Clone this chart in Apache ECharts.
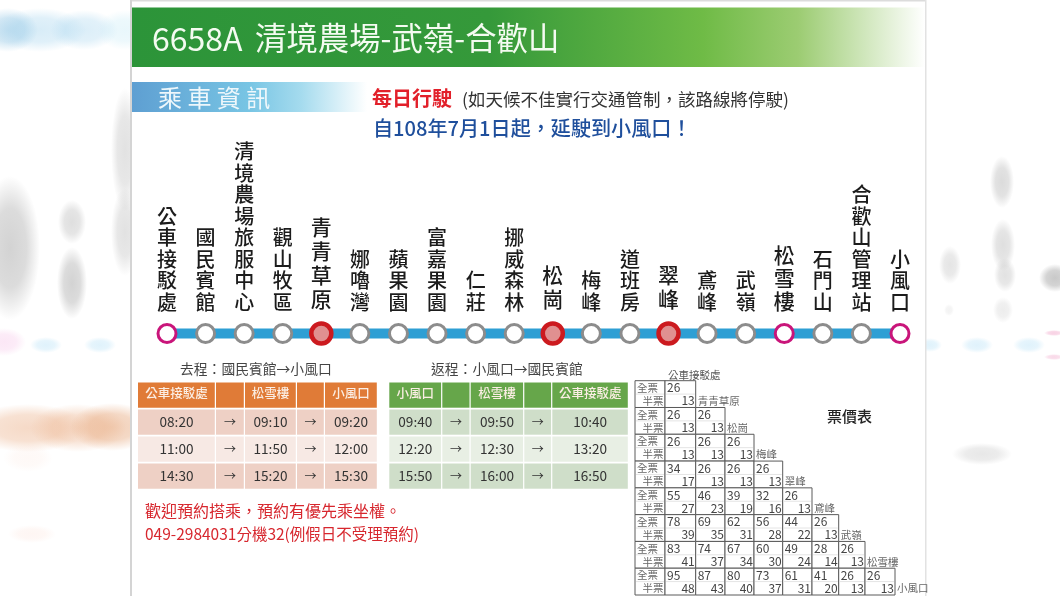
<!DOCTYPE html>
<html><head><meta charset="utf-8">
<style>html,body{margin:0;padding:0;background:#fff}#c{width:1060px;height:596px}</style>
<script src="https://cdn.jsdelivr.net/npm/echarts@6/dist/echarts.min.js"></script>
</head><body><div id="c"></div>
<script>
// ---------- data ----------
const stations = ['公車接駁處','國民賓館','清境農場旅服中心','觀山牧區','青青草原','娜嚕灣','蘋果園','富嘉果園','仁莊','挪威森林','松崗','梅峰','道班房','翠峰','鳶峰','武嶺','松雪樓','石門山','合歡山管理站','小風口'];
const majorStops = ['青青草原','松崗','翠峰'];
const terminalStops = ['公車接駁處','松雪樓','小風口'];
const outboundHeader = ['公車接駁處','','松雪樓','','小風口'];
const outboundFirst = ['08:20','11:00','14:30'];
const outboundMiddle = ['09:10','11:50','15:20'];
const outboundLast = ['09:20','12:00','15:30'];
const returnHeader = ['小風口','','松雪樓','','公車接駁處'];
const returnFirst = ['09:40','12:20','15:50'];
const returnMiddle = ['09:50','12:30','16:00'];
const returnLast = ['10:40','13:20','16:50'];
const fareStops = ['青青草原','松崗','梅峰','翠峰','鳶峰','武嶺','松雪樓','小風口'];
const fareFull = [[26],[26,26],[26,26,26],[34,26,26,26],[55,46,39,32,26],[78,69,62,56,44,26],[83,74,67,60,49,28,26],[95,87,80,73,61,41,26,26]];
const fareHalf = [[13],[13,13],[13,13,13],[17,13,13,13],[27,23,19,16,13],[39,35,31,28,22,13],[41,37,34,30,24,14,13],[48,43,40,37,31,20,13,13]];

// ---------- layout and style ----------
const FONT = '"Noto Sans CJK TC","Noto Sans CJK SC",sans-serif';
const outEdges = [0,78,107,159,187,240];
const retEdges = [0,53,81.4,135,163,239.7];
const fareEdges = [0,30,60.7,90,119,147.7,177,203.7,230,260];
const blobFade = 0.62;
const blobs = [
 [10,248,30,72,'140,140,140',.62],[72,222,14,22,'150,150,150',.5],[72,283,15,36,'140,140,140',.62],
 [125,150,14,62,'150,150,150',.45],[125,232,14,44,'150,150,150',.45],
 [40,30,46,22,'150,205,235',.6],[84,30,34,20,'150,205,235',.55],[8,30,30,22,'130,190,225',.7],[125,30,28,20,'190,232,245',.55],
 [4,342,22,14,'245,190,230',.6],[46,345,16,8,'170,220,245',.6],[100,345,16,8,'170,220,245',.6],
 [28,428,60,24,'235,175,135',.75],[78,428,48,24,'235,175,135',.7],[112,427,42,24,'230,165,120',.85],[28,458,25,14,'250,215,200',.25],
 [32,534,24,9,'250,205,190',.3],
 [1002,182,12,26,'150,150,150',.55],[1003,245,12,26,'150,150,150',.5],[1005,275,11,17,'150,150,150',.45],[1003,310,10,13,'170,170,170',.35],
 [950,265,11,19,'160,160,160',.45],[949,310,5,6,'190,190,190',.3],[982,454,30,11,'170,170,170',.45],
 [930,345,12,7,'170,220,245',.6],[977,345,16,8,'170,220,245',.6],[1029,345,16,8,'170,220,245',.6],
 [1055,278,16,14,'120,120,120',.65],[1054,333,10,3,'235,130,180',.6],[1054,357,10,3,'235,130,180',.5]
];
const t = (text,x,y,size,fill,weight,align) => ({type:'text',style:{text,x,y,fill,font:`${weight||400} ${size}px ${FONT}`,textAlign:align||'left',textVerticalAlign:'middle'}});
const bgGraphics = [
 ...blobs.map(([x,y,rx,ry,c,a0])=>{const a=a0*blobFade;return {type:'circle',x,y,scaleY:ry/rx,shape:{cx:0,cy:0,r:rx},silent:true,
   style:{fill:{type:'radial',x:.5,y:.5,r:.5,colorStops:[{offset:0,color:`rgba(${c},${a})`},{offset:.55,color:`rgba(${c},${a*.8})`},{offset:1,color:`rgba(${c},0)`}]}}};}),
 {type:'rect',shape:{x:132,y:0,width:793,height:596},style:{fill:'#fff'}},
 {type:'rect',shape:{x:130,y:0,width:2,height:596},style:{fill:'#d4d4d4'}},
 {type:'rect',shape:{x:925,y:0,width:1.5,height:596},style:{fill:'#e2e2e2'}},
 {type:'rect',shape:{x:132,y:0,width:793,height:1.5},style:{fill:'#dcdcdc'}},
 {type:'rect',shape:{x:132,y:7.5,width:793,height:59.5},style:{fill:{type:'linear',x:0,y:0,x2:1,y2:0,colorStops:[{offset:0,color:'#2c9439'},{offset:.45,color:'#35993a'},{offset:.72,color:'#6fbb46'},{offset:.84,color:'#9ccc72'},{offset:1,color:'#ffffff'}]}}},
 {type:'rect',shape:{x:132,y:82,width:235,height:30},style:{fill:{type:'linear',x:0,y:0,x2:1,y2:0,colorStops:[{offset:0,color:'#5e9fd2'},{offset:.5,color:'#78c5e4'},{offset:.72,color:'#a5dbee'},{offset:1,color:'#ffffff'}]}}},
 t('6658A',152,38.5,32,'#f4fbf1',400),
 t('清境農場-武嶺-合歡山',255,38.5,31.4,'#f4fbf1',400),
 t('乘 車 資 訊',158,97.5,24,'#eef7fb',400),
 t('每日行駛',372,98,20,'#e2202a',700),
 t('(如天候不佳實行交通管制，該路線將停駛)',462,99,17.5,'#333',400),
 t('自108年7月1日起，延駛到小風口！',373,128,20.1,'#1f4f9c',500),
 t('去程：國民賓館→小風口',180,369,13.8,'#444',400),
 t('返程：小風口→國民賓館',431,369,13.8,'#444',400),
 t('歡迎預約搭乘，預約有優先乘坐權。',145,511,16,'#d7272e',400),
 t('049-2984031分機32(例假日不受理預約)',145,534,15.5,'#d7272e',400),
 t('公車接駁處',668,375,10.5,'#555',400),
 t('票價表',827,416,15,'#222',500)
];

// ---------- schedule tables ----------
function timetableCells(header, first, middle, last){
  const cells=[];
  header.forEach((h,c)=>cells.push({col:c,row:0,text:h,head:true}));
  first.forEach((v,i)=>{
    [v,'→',middle[i],'→',last[i]].forEach((s,c)=>cells.push({col:c,row:i+1,text:s}));
  });
  return cells;
}
function timetableSeries(idx, cells, edges, headFill, bodyFills){
  return {type:'custom',coordinateSystem:'cartesian2d',xAxisIndex:idx,yAxisIndex:idx,silent:true,
    data:cells.map(c=>[c.col,c.row]),
    renderItem(params,api){
      const cell=cells[params.dataIndex];
      const p0=api.coord([edges[cell.col],cell.row]);
      const p1=api.coord([edges[cell.col+1],cell.row]);
      const band=api.size([0,1])[1];
      const y=p0[1]-band/2+.5,h=band-1.8;
      const fill=cell.head?headFill:bodyFills[cell.row%2];
      const arrow=cell.text==='→';
      return {type:'group',children:[
        {type:'rect',shape:{x:p0[0],y,width:p1[0]-p0[0]-1.2,height:h},style:{fill}},
        {type:'text',style:{text:cell.text,x:(p0[0]+p1[0])/2-.5,y:y+h/2-(cell.head?1.5:0),textAlign:'center',textVerticalAlign:'middle',
          fill:cell.head?'#fbeee4':'#333',font:`${cell.head?500:400} ${cell.head?12.5:(arrow?12:13.6)}px ${FONT}`}}
      ]};
    }};
}
const outCells=timetableCells(outboundHeader,outboundFirst,outboundMiddle,outboundLast);
const retCells=timetableCells(returnHeader,returnFirst,returnMiddle,returnLast);

// ---------- fare triangle ----------
const fareCells=[];
fareStops.forEach((s,r)=>{
  fareCells.push({col:0,row:r});
  fareFull[r].forEach((v,i)=>fareCells.push({col:i+1,row:r,full:v,half:fareHalf[r][i],last:i===fareFull[r].length-1,stop:s}));
});
const fareSeries={type:'custom',coordinateSystem:'cartesian2d',xAxisIndex:3,yAxisIndex:3,silent:true,
  data:fareCells.map(c=>[c.col,c.row]),
  renderItem(params,api){
    const c=fareCells[params.dataIndex];
    const p0=api.coord([fareEdges[c.col],c.row]);
    const p1=api.coord([fareEdges[c.col+1],c.row]);
    const band=api.size([0,1])[1];
    const y=p0[1]-band/2, x=p0[0], w=p1[0]-p0[0];
    const numFont=`400 12px ${FONT}`, labFont=`400 10.5px ${FONT}`;
    const kids=[
      {type:'rect',shape:{x,y,width:w,height:band},style:{fill:'#fff',stroke:'#5a5a5a',lineWidth:1}},
      {type:'line',shape:{x1:x+1,y1:y+band/2,x2:x+w-1,y2:y+band/2},style:{stroke:'#e4e4e4',lineWidth:1}}
    ];
    if(c.col===0){
      kids.push({type:'text',style:{text:'全票',x:x+2,y:y+band/4+.5,font:labFont,fill:'#666',textAlign:'left',textVerticalAlign:'middle'}});
      kids.push({type:'text',style:{text:'半票',x:x+w-1.5,y:y+band*3/4,font:labFont,fill:'#666',textAlign:'right',textVerticalAlign:'middle'}});
    }else{
      kids.push({type:'text',style:{text:String(c.full),x:x+2,y:y+band/4+.5,font:numFont,fill:'#444',textAlign:'left',textVerticalAlign:'middle'}});
      kids.push({type:'text',style:{text:String(c.half),x:x+w-1,y:y+band*3/4,font:numFont,fill:'#444',textAlign:'right',textVerticalAlign:'middle'}});
      if(c.last)kids.push({type:'text',style:{text:c.stop,x:x+w+2,y:y+band*3/4,font:labFont,fill:'#666',textAlign:'left',textVerticalAlign:'middle'}});
    }
    return {type:'group',children:kids};
  }};

// ---------- route ----------
const routeLevel=stations.map(()=>0.5);
const stopData=stations.map((s,i)=>{
  const major=majorStops.includes(s), term=terminalStops.includes(s);
  const tall=s==='松雪樓';
  return {value:routeLevel[i],name:s,
    symbolSize:major?20:18,
    itemStyle:major?{color:'#e09090',borderColor:'#cc1a1f',borderWidth:4.5,opacity:1}
      :term?{color:'#fff',borderColor:'#c9157a',borderWidth:3,opacity:1}
      :{color:'#fff',borderColor:'#8c8c8c',borderWidth:3,opacity:1},
    label:{formatter:[...s].join('\n'),fontSize:(major||tall)?21:20,lineHeight:major?24:(tall?23.3:21.5)}};
});

const hiddenAxis=(o)=>Object.assign({show:false},o);
const chart=echarts.init(document.getElementById('c'));
chart.setOption({
  animation:false,backgroundColor:'#fff',
  graphic:{elements:bgGraphics},
  grid:[
    {left:167,width:733,top:303.5,height:60},
    {left:138,width:240,top:382,height:108},
    {left:389.3,width:239.7,top:382,height:108},
    {left:635,width:260,top:380.7,height:214.3}
  ],
  xAxis:[
    hiddenAxis({gridIndex:0,type:'category',boundaryGap:false,data:stations}),
    hiddenAxis({gridIndex:1,type:'value',min:0,max:240}),
    hiddenAxis({gridIndex:2,type:'value',min:0,max:239.7}),
    hiddenAxis({gridIndex:3,type:'value',min:0,max:260})
  ],
  yAxis:[
    hiddenAxis({gridIndex:0,type:'value',min:0,max:1}),
    hiddenAxis({gridIndex:1,type:'category',inverse:true,data:['h','1','2','3']}),
    hiddenAxis({gridIndex:2,type:'category',inverse:true,data:['h','1','2','3']}),
    hiddenAxis({gridIndex:3,type:'category',inverse:true,data:fareStops})
  ],
  series:[
    {type:'line',xAxisIndex:0,yAxisIndex:0,data:routeLevel,symbol:'none',silent:true,
      lineStyle:{width:10,color:'#2e9fd4',cap:'butt'},z:2},
    {type:'scatter',xAxisIndex:0,yAxisIndex:0,data:stopData,symbol:'circle',silent:true,z:3,
      label:{show:true,position:'top',distance:10,color:'#1c1c1c',fontFamily:FONT,fontWeight:500,align:'center'}},
    timetableSeries(1,outCells,outEdges,'#e07b37',['#f7e9e4','#eed0c5']),
    timetableSeries(2,retCells,retEdges,'#66a64a',['#e8efe4','#cfdec9']),
    fareSeries
  ]
});
</script></body></html>
